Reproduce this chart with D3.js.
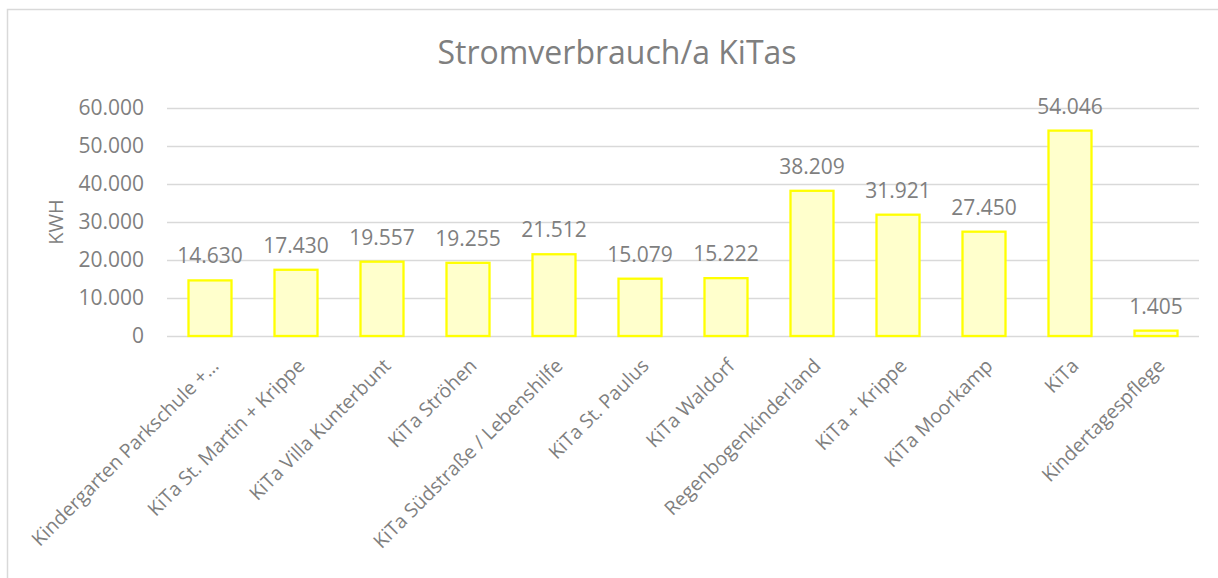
<!DOCTYPE html>
<html>
<head>
<meta charset="utf-8">
<script src="https://cdn.jsdelivr.net/npm/d3@7"></script>
<style>
  body { margin: 0; background: #fff; }
  svg { display: block; font-family: "Open Sans", sans-serif; }
</style>
</head>
<body>
<div id="chart"></div>
<script>
const categories = [
    "Kindergarten Parkschule +...",
    "KiTa St. Martin + Krippe",
    "KiTa Villa Kunterbunt",
    "KiTa Ströhen",
    "KiTa Südstraße / Lebenshilfe",
    "KiTa St. Paulus",
    "KiTa Waldorf",
    "Regenbogenkinderland",
    "KiTa + Krippe",
    "KiTa Moorkamp",
    "KiTa",
    "Kindertagespflege"
];
const values = [14630, 17430, 19557, 19255, 21512, 15079, 15222, 38209, 31921, 27450, 54046, 1405];
const yTicks = [0, 10000, 20000, 30000, 40000, 50000, 60000];
const title = "Stromverbrauch/a KiTas";
const yTitle = "KWH";

const width = 1218, height = 578;
const margin = {top: 108, right: 19, bottom: 242, left: 167};
const textColor = "#7f7f7f";
const gridColor = "#d9d9d9";

const de = d3.formatLocale({decimal: ",", thousands: ".", grouping: [3], currency: ["", "€"]});
const fmt = de.format(",d");

const svg = d3.select("#chart").append("svg")
    .attr("width", width)
    .attr("height", height);

// chart area border (only top and left visible in the original)
svg.append("rect")
    .attr("x", 7.5).attr("y", 9.5)
    .attr("width", width + 20).attr("height", height + 20)
    .attr("fill", "none")
    .attr("stroke", gridColor)
    .attr("stroke-width", 1.5);

const x = d3.scaleBand()
    .domain(categories)
    .range([margin.left, width - margin.right])
    .paddingInner(0.5)
    .paddingOuter(0.25);

const y = d3.scaleLinear()
    .domain([0, 60000])
    .range([height - margin.bottom, margin.top]);

// gridlines + y labels
const yAxis = svg.append("g")
    .attr("transform", `translate(${margin.left},0)`)
    .call(d3.axisLeft(y).tickValues(yTicks).tickFormat(fmt)
        .tickSize(-(width - margin.left - margin.right)).tickPadding(23));
yAxis.select(".domain").remove();
yAxis.selectAll(".tick line").attr("stroke", gridColor).attr("stroke-width", 1.3);
yAxis.selectAll(".tick text")
    .attr("fill", textColor)
    .style("font-size", "21px")
    .style("font-family", "'Open Sans', sans-serif");

// bars
svg.selectAll(".bar")
    .data(values)
    .join("rect")
    .attr("class", "bar")
    .attr("x", (d, i) => x(categories[i]))
    .attr("y", d => y(d))
    .attr("width", x.bandwidth())
    .attr("height", d => y(0) - y(d))
    .attr("fill", "#ffffcc")
    .attr("stroke", "#ffff00")
    .attr("stroke-width", 2.3);

// data labels
svg.selectAll(".dlabel")
    .data(values)
    .join("text")
    .attr("class", "dlabel")
    .attr("x", (d, i) => x(categories[i]) + x.bandwidth() / 2)
    .attr("y", d => y(d) - 17)
    .attr("text-anchor", "middle")
    .attr("fill", textColor)
    .style("font-size", "21px")
    .text(d => fmt(d));

// category labels
svg.selectAll(".xlabel")
    .data(categories)
    .join("text")
    .attr("class", "xlabel")
    .attr("transform", d => `translate(${x(d) + x.bandwidth() / 2 + 10},${y(0) + 31}) rotate(-45)`)
    .attr("text-anchor", "end")
    .attr("fill", textColor)
    .style("font-size", "19.5px")
    .text(d => d);

// title
svg.append("text")
    .attr("x", 617)
    .attr("y", 64)
    .attr("text-anchor", "middle")
    .attr("fill", textColor)
    .style("font-size", "32px")
    .text(title);

// y axis title
svg.append("text")
    .attr("transform", `translate(63,222) rotate(-90)`)
    .attr("text-anchor", "middle")
    .attr("fill", textColor)
    .style("font-size", "20px")
    .text(yTitle);
</script>
</body>
</html>
